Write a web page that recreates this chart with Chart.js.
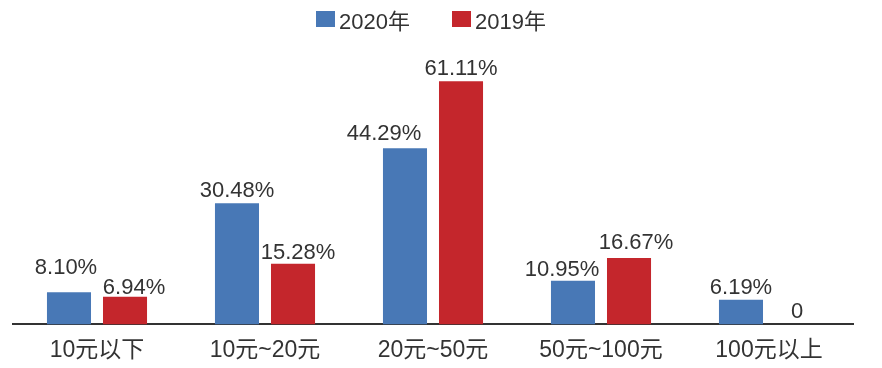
<!DOCTYPE html>
<html>
<head>
<meta charset="utf-8">
<script src="https://cdn.jsdelivr.net/npm/chart.js@4.4.1/dist/chart.umd.min.js"></script>
<style>
    body { margin: 0; background: #fff; }
    #wrap { position: relative; width: 882px; height: 368px; }
    #legend {
        position: absolute; top: 3px; left: -10px; width: 882px;
        display: flex; justify-content: center; gap: 42px;
        font: 22px "Liberation Sans", "Noto Sans CJK SC", sans-serif; color: #333;
    }
    #legend span.item { display: flex; align-items: center; }
    #legend span.box { display: inline-block; width: 19px; height: 16px; margin-right: 4px; }
</style>
</head>
<body>
<div id="wrap">
    <canvas id="myChart" width="882" height="368"></canvas>
    <div id="legend"></div>
</div>
<script>
const categories = ["10元以下", "10元~20元", "20元~50元", "50元~100元", "100元以上"];
const seriesNames = ["2020年", "2019年"];
const values2020 = [8.10, 30.48, 44.29, 10.95, 6.19];
const values2019 = [6.94, 15.28, 61.11, 16.67, 0];
const barColors = [
    "#4878b6", //2020
    "#c4262c"  //2019
];

// hand nudges [dx, dy] so neighbouring labels don't collide
const labelNudge = [
    [[-3, -12], [0, 0], [-21, -2], [-11, 1], [0, 0]],
    [[9, 3], [5, 1], [0, 0], [7, -3], [0, 0]]
];

const labelFont = '22px "Liberation Sans", "Noto Sans CJK SC", sans-serif';

// value labels above every bar; zero shows as plain "0"
const barLabels = {
    id: "barLabels",
    afterDatasetsDraw(chart) {
        const ctx = chart.ctx;
        ctx.save();
        ctx.font = labelFont;
        ctx.fillStyle = "#333";
        ctx.textAlign = "center";
        ctx.textBaseline = "alphabetic";
        chart.data.datasets.forEach((ds, i) => {
            chart.getDatasetMeta(i).data.forEach((bar, j) => {
                const v = ds.data[j];
                const txt = v === 0 ? "0" : v.toFixed(2) + "%";
                const [dx, dy] = labelNudge[i][j];
                ctx.fillText(txt, bar.x + dx, bar.y - 6 + dy);
            });
        });
        ctx.restore();
    }
};

const legendEl = document.getElementById("legend");
seriesNames.forEach((name, i) => {
    const item = document.createElement("span");
    item.className = "item";
    const box = document.createElement("span");
    box.className = "box";
    box.style.background = barColors[i];
    item.appendChild(box);
    item.appendChild(document.createTextNode(name));
    legendEl.appendChild(item);
});

new Chart("myChart", {
    type: "bar",
    data: {
        labels: categories,
        datasets: [
            { label: seriesNames[0], data: values2020, backgroundColor: barColors[0] },
            { label: seriesNames[1], data: values2019, backgroundColor: barColors[1] }
        ]
    },
    options: {
        responsive: false,
        animation: false,
        devicePixelRatio: 1,
        categoryPercentage: 0.667,
        barPercentage: 0.786,
        layout: { padding: { top: 46, left: 13, right: 29, bottom: 0 } },
        plugins: {
            legend: { display: false },
            tooltip: { enabled: false }
        },
        scales: {
            x: {
                grid: { display: false },
                border: { color: "#333", width: 2 },
                ticks: {
                    color: "#333",
                    padding: 4,
                    font: { family: '"Liberation Sans", "Noto Sans CJK SC", sans-serif', size: 23 }
                }
            },
            y: {
                display: false,
                min: 0,
                max: 70
            }
        }
    },
    plugins: [barLabels]
});
</script>
</body>
</html>
